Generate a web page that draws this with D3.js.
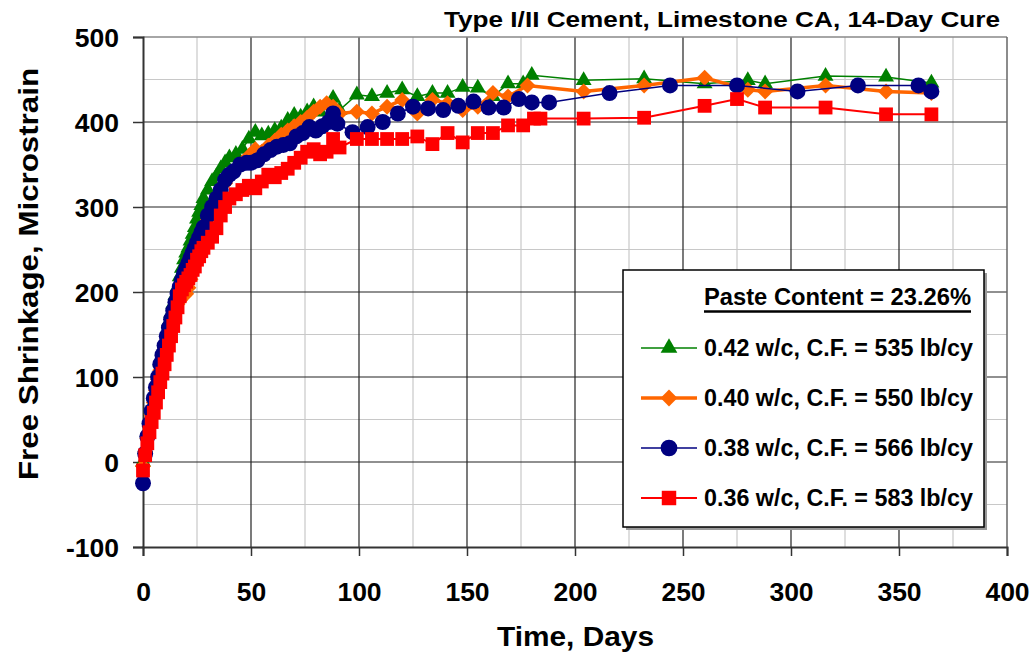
<!DOCTYPE html>
<html>
<head>
<meta charset="utf-8">
<script src="https://cdn.jsdelivr.net/npm/d3@7"></script>
<style>
  html, body { margin: 0; padding: 0; background: #fff; }
  svg { display: block; font-family: "Liberation Sans", Arial, sans-serif; font-weight: bold; }
</style>
</head>
<body>
<svg id="chart" width="1034" height="656"></svg>
<script>
// ---------------- data ----------------
const titleText = "Type I/II Cement, Limestone CA, 14-Day Cure";
const xTitle = "Time, Days";
const yTitle = "Free Shrinkage, Microstrain";
const legendTitle = "Paste Content = 23.26%";
const seriesNames = ["0.42 w/c, C.F. = 535 lb/cy", "0.40 w/c, C.F. = 550 lb/cy", "0.38 w/c, C.F. = 566 lb/cy", "0.36 w/c, C.F. = 583 lb/cy"];
const xTicks = [0, 50, 100, 150, 200, 250, 300, 350, 400];
const yTicks = [-100, 0, 100, 200, 300, 400, 500];

const daysGreen = [0,1,2,3,4,5,6,7,8,9,10,11,12,13,14,15,16,17,18,19,20,21,22,23,24,25,26,27,28,
  30,32,34,36,38,40,43,46,49,52,55,58,61,64,67,70,73,76,79,82,85,88,91,
  99,106,113,120,127,134,141,148,155,162,169,176,180,204,232,260,280,288,316,344,365];
const valsGreen = [0,15,35,50,65,78,92,105,118,130,142,153,165,175,186,196,206,218,228,238,246,252,260,268,276,286,294,302,310,
  320,330,336,345,352,358,362,368,380,388,384,386,390,393,402,408,406,412,418,412,420,428,414,
  432,430,434,438,430,434,434,441,440,430,445,445,455,449,451,445,449,445,454,453,446];

const daysOrange = [0,1,2,3,4,5,6,7,8,9,10,11,12,13,14,15,16,17,18,19,20,21,22,23,24,25,26,27,28,
  30,32,34,36,38,40,43,46,49,52,55,58,61,64,67,70,73,76,79,82,85,88,91,
  99,106,113,120,127,134,141,148,155,162,169,178,204,232,260,280,288,316,344,365];
const valsOrange = [-5,12,28,42,56,70,84,97,108,120,132,143,153,163,172,180,186,190,194,196,198,205,215,228,240,250,258,265,272,
  285,295,308,318,328,338,345,352,360,368,365,372,378,385,390,395,400,405,412,418,422,418,410,
  412,410,418,426,410,426,422,414,418,434,430,443,436,443,452,438,436,443,436,434];

const daysBlue = [0,1,2,3,4,5,6,7,8,9,10,11,12,13,14,15,16,17,18,19,20,21,22,23,24,25,26,27,28,
  30,32,34,36,38,40,42,45,48,50,53,56,59,62,65,68,71,74,77,80,83,86,88,90,
  97,104,111,118,125,132,139,146,153,160,167,174,180,188,216,244,275,303,331,359,365];
const valsBlue = [-25,10,30,45,60,75,88,100,115,126,137,148,158,168,178,188,198,206,214,222,228,234,240,246,252,258,264,270,276,
  290,300,310,320,332,338,342,350,352,352,355,362,367,371,373,375,383,387,394,390,395,400,410,398,
  388,394,400,410,418,416,414,419,424,417,417,427,423,423,434,443,443,436,443,443,436];

const daysRed = [0,1,2,3,4,5,6,7,8,9,10,11,12,13,14,15,16,17,18,19,20,21,22,23,24,25,26,27,28,
  30,32,34,36,38,40,43,46,49,52,55,58,61,64,67,70,73,76,79,82,85,88,91,
  99,106,113,120,127,134,141,148,155,162,169,176,181,184,204,232,260,275,288,316,344,365];
const valsRed = [-10,8,22,35,47,58,70,82,94,104,115,126,137,148,160,170,182,195,203,208,212,216,220,226,230,238,242,248,252,
  258,265,275,290,300,310,315,320,325,322,330,338,335,340,345,352,358,365,368,362,365,380,370,
  380,380,380,380,383,374,387,376,387,387,396,396,404,404,404,405,419,427,417,417,409,409];

// ---------------- layout ----------------
const svg = d3.select("#chart");
const X0 = 143, X1 = 1007, Y0 = 547, Y1 = 37;
const x = d3.scaleLinear().domain([0, 400]).range([X0, X1]);
const y = d3.scaleLinear().domain([-100, 500]).range([Y0, Y1]);

// minor grid
const g = svg.append("g");
g.selectAll(".vmin").data(d3.range(25, 400, 50)).enter().append("line")
  .attr("x1", d => x(d)).attr("x2", d => x(d)).attr("y1", Y1).attr("y2", Y0)
  .attr("stroke", "#c8c8c8").attr("stroke-width", 1.2);
g.selectAll(".hmin").data(d3.range(-50, 500, 100)).enter().append("line")
  .attr("x1", X0).attr("x2", X1).attr("y1", d => y(d)).attr("y2", d => y(d))
  .attr("stroke", "#c8c8c8").attr("stroke-width", 1.2);
// major grid
g.selectAll(".vmaj").data(d3.range(50, 400, 50)).enter().append("line")
  .attr("x1", d => x(d)).attr("x2", d => x(d)).attr("y1", Y1).attr("y2", Y0)
  .attr("stroke", "#222").attr("stroke-width", 1.2);
g.selectAll(".hmaj").data(d3.range(0, 500, 100)).enter().append("line")
  .attr("x1", X0).attr("x2", X1).attr("y1", d => y(d)).attr("y2", d => y(d))
  .attr("stroke", "#222").attr("stroke-width", 1.2);
// plot border (top/right)
g.append("line").attr("x1", X0).attr("x2", X1).attr("y1", Y1).attr("y2", Y1).attr("stroke", "#888").attr("stroke-width", 1.5);
g.append("line").attr("x1", X1).attr("x2", X1).attr("y1", Y1).attr("y2", Y0).attr("stroke", "#666").attr("stroke-width", 1.5);

// axes
const fmt = d => String(d);
const xAxis = svg.append("g").attr("transform", `translate(0,${Y0})`)
  .call(d3.axisBottom(x).tickValues(xTicks).tickSize(9).tickPadding(26).tickFormat(fmt));
const yAxis = svg.append("g").attr("transform", `translate(${X0},0)`)
  .call(d3.axisLeft(y).tickValues(yTicks).tickSize(10).tickPadding(14).tickFormat(fmt));
[xAxis, yAxis].forEach(a => {
  a.select(".domain").attr("stroke", "#333").attr("stroke-width", 2);
  a.selectAll(".tick line").attr("stroke", "#333").attr("stroke-width", 1.5);
  a.selectAll(".tick text").attr("fill", "#000").style("font-size", "26.5px").style("font-weight", "bold")
    .style("font-family", '"Liberation Sans", Arial, sans-serif');
});
yAxis.selectAll(".tick text").attr("dy", "0.35em");

// ---------------- series ----------------
const diamond = {
  draw(ctx, size) {
    const r = Math.sqrt(size / 2);
    ctx.moveTo(0, -r); ctx.lineTo(r, 0); ctx.lineTo(0, r); ctx.lineTo(-r, 0); ctx.closePath();
  }
};
const series = [
  { name: seriesNames[0], days: daysGreen, vals: valsGreen, color: "#008000", lw: 1.5, sym: d3.symbolTriangle, size: 110 },
  { name: seriesNames[1], days: daysOrange, vals: valsOrange, color: "#FF6600", lw: 3.5, sym: diamond, size: 128 },
  { name: seriesNames[2], days: daysBlue, vals: valsBlue, color: "#000080", lw: 1.5, sym: d3.symbolCircle, size: 200 },
  { name: seriesNames[3], days: daysRed, vals: valsRed, color: "#FF0000", lw: 2, sym: d3.symbolSquare, size: 190 }
];
const line = d3.line().x(d => x(d[0])).y(d => y(d[1]));
series.forEach(s => {
  const pts = s.days.map((d, i) => [d, s.vals[i]]);
  const sg = svg.append("g");
  sg.append("path").attr("d", line(pts)).attr("fill", "none").attr("stroke", s.color).attr("stroke-width", s.lw);
  sg.selectAll("path.m").data(pts).enter().append("path").attr("class", "m")
    .attr("d", d3.symbol().type(s.sym).size(s.size))
    .attr("transform", d => `translate(${x(d[0])},${y(d[1])})`)
    .attr("fill", s.color);
});

// ---------------- titles ----------------
svg.append("text").attr("x", 444).attr("y", 27)
  .attr("textLength", 556).attr("lengthAdjust", "spacingAndGlyphs")
  .style("font-size", "22px").text(titleText);
svg.append("text").attr("x", 497).attr("y", 646)
  .attr("textLength", 157).attr("lengthAdjust", "spacingAndGlyphs")
  .style("font-size", "28px").text(xTitle);
svg.append("text").attr("transform", "translate(38,480) rotate(-90)")
  .attr("textLength", 412).attr("lengthAdjust", "spacingAndGlyphs")
  .style("font-size", "28px").text(yTitle);

// ---------------- legend ----------------
const L = svg.append("g");
L.append("rect").attr("x", 626).attr("y", 273).attr("width", 361).attr("height", 257).attr("fill", "#999");
L.append("rect").attr("x", 623).attr("y", 270).attr("width", 361).attr("height", 257)
  .attr("fill", "#fff").attr("stroke", "#000").attr("stroke-width", 1.5);
L.append("text").attr("x", 704).attr("y", 305)
  .attr("textLength", 267).attr("lengthAdjust", "spacingAndGlyphs")
  .style("font-size", "23px").text(legendTitle);
L.append("line").attr("x1", 704).attr("x2", 971).attr("y1", 311.5).attr("y2", 311.5)
  .attr("stroke", "#000").attr("stroke-width", 2.5);
series.forEach((s, i) => {
  const cy = 348 + i * 50;
  L.append("line").attr("x1", 641).attr("x2", 697).attr("y1", cy).attr("y2", cy)
    .attr("stroke", s.color).attr("stroke-width", s.lw);
  L.append("path").attr("d", d3.symbol().type(s.sym).size(s.size * 1.1)).attr("transform", `translate(669,${cy})`)
    .attr("fill", s.color);
  L.append("text").attr("x", 704).attr("y", cy).attr("dy", "0.36em")
    .attr("textLength", 269).attr("lengthAdjust", "spacingAndGlyphs")
    .style("font-size", "23px").text(s.name);
});
</script>
</body>
</html>
